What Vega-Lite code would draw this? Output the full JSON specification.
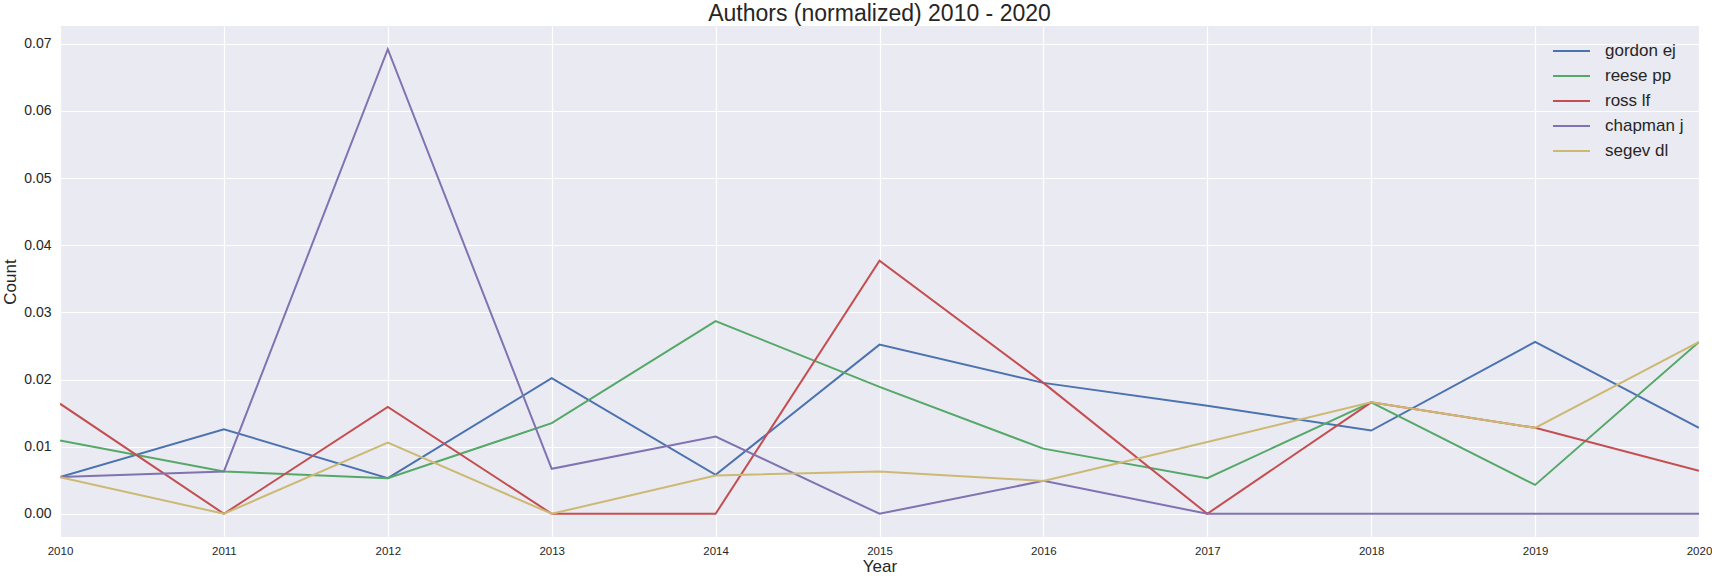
{
  "$schema": "https://vega.github.io/schema/vega-lite/v6.json",
  "width": 1639,
  "height": 511,
  "autosize": {"type": "none"},
  "padding": {"left": 60, "top": 26, "right": 13, "bottom": 39},
  "background": "#ffffff",
  "title": {
    "text": "Authors (normalized) 2010 - 2020",
    "font": "Liberation Sans",
    "fontSize": 23,
    "fontWeight": "normal",
    "color": "#262626",
    "anchor": "middle",
    "baseline": "alphabetic",
    "offset": 4,
    "dy": 22
  },
  "config": {
    "view": {"fill": "#EAEAF2", "stroke": null},
    "font": "Liberation Sans"
  },
  "data": {
    "values": [
      {"Year": 2010, "Author": "gordon ej", "Count": 0.00546},
      {"Year": 2011, "Author": "gordon ej", "Count": 0.0126},
      {"Year": 2012, "Author": "gordon ej", "Count": 0.0053},
      {"Year": 2013, "Author": "gordon ej", "Count": 0.0202},
      {"Year": 2014, "Author": "gordon ej", "Count": 0.0058},
      {"Year": 2015, "Author": "gordon ej", "Count": 0.0252},
      {"Year": 2016, "Author": "gordon ej", "Count": 0.0195},
      {"Year": 2017, "Author": "gordon ej", "Count": 0.0161},
      {"Year": 2018, "Author": "gordon ej", "Count": 0.0124},
      {"Year": 2019, "Author": "gordon ej", "Count": 0.0256},
      {"Year": 2020, "Author": "gordon ej", "Count": 0.0128},
      {"Year": 2010, "Author": "reese pp", "Count": 0.0109},
      {"Year": 2011, "Author": "reese pp", "Count": 0.0063},
      {"Year": 2012, "Author": "reese pp", "Count": 0.0053},
      {"Year": 2013, "Author": "reese pp", "Count": 0.0135},
      {"Year": 2014, "Author": "reese pp", "Count": 0.0287},
      {"Year": 2015, "Author": "reese pp", "Count": 0.0189},
      {"Year": 2016, "Author": "reese pp", "Count": 0.0097},
      {"Year": 2017, "Author": "reese pp", "Count": 0.0053},
      {"Year": 2018, "Author": "reese pp", "Count": 0.0166},
      {"Year": 2019, "Author": "reese pp", "Count": 0.0043},
      {"Year": 2020, "Author": "reese pp", "Count": 0.0256},
      {"Year": 2010, "Author": "ross lf", "Count": 0.0164},
      {"Year": 2011, "Author": "ross lf", "Count": 0},
      {"Year": 2012, "Author": "ross lf", "Count": 0.0159},
      {"Year": 2013, "Author": "ross lf", "Count": 0},
      {"Year": 2014, "Author": "ross lf", "Count": 0},
      {"Year": 2015, "Author": "ross lf", "Count": 0.0377},
      {"Year": 2016, "Author": "ross lf", "Count": 0.0195},
      {"Year": 2017, "Author": "ross lf", "Count": 0},
      {"Year": 2018, "Author": "ross lf", "Count": 0.0166},
      {"Year": 2019, "Author": "ross lf", "Count": 0.0128},
      {"Year": 2020, "Author": "ross lf", "Count": 0.0064},
      {"Year": 2010, "Author": "chapman j", "Count": 0.00546},
      {"Year": 2011, "Author": "chapman j", "Count": 0.0063},
      {"Year": 2012, "Author": "chapman j", "Count": 0.0692},
      {"Year": 2013, "Author": "chapman j", "Count": 0.0067},
      {"Year": 2014, "Author": "chapman j", "Count": 0.0115},
      {"Year": 2015, "Author": "chapman j", "Count": 0},
      {"Year": 2016, "Author": "chapman j", "Count": 0.0049},
      {"Year": 2017, "Author": "chapman j", "Count": 0},
      {"Year": 2018, "Author": "chapman j", "Count": 0},
      {"Year": 2019, "Author": "chapman j", "Count": 0},
      {"Year": 2020, "Author": "chapman j", "Count": 0},
      {"Year": 2010, "Author": "segev dl", "Count": 0.00546},
      {"Year": 2011, "Author": "segev dl", "Count": 0},
      {"Year": 2012, "Author": "segev dl", "Count": 0.0106},
      {"Year": 2013, "Author": "segev dl", "Count": 0},
      {"Year": 2014, "Author": "segev dl", "Count": 0.0057},
      {"Year": 2015, "Author": "segev dl", "Count": 0.0063},
      {"Year": 2016, "Author": "segev dl", "Count": 0.0049},
      {"Year": 2017, "Author": "segev dl", "Count": 0.0107},
      {"Year": 2018, "Author": "segev dl", "Count": 0.0166},
      {"Year": 2019, "Author": "segev dl", "Count": 0.0128},
      {"Year": 2020, "Author": "segev dl", "Count": 0.0256}
    ]
  },
  "mark": {"type": "line", "strokeWidth": 2, "clip": true},
  "encoding": {
    "x": {
      "field": "Year",
      "type": "quantitative",
      "scale": {"domain": [2010, 2020], "nice": false, "zero": false},
      "axis": {
        "title": "Year",
        "values": [2010, 2011, 2012, 2013, 2014, 2015, 2016, 2017, 2018, 2019, 2020],
        "format": "d",
        "ticks": false,
        "domain": false,
        "grid": true,
        "gridColor": "#ffffff",
        "gridWidth": 1.2,
        "gridOpacity": 1,
        "labelFont": "Liberation Sans",
        "labelFontSize": 11.5,
        "labelColor": "#262626",
        "labelPadding": 8,
        "labelFlush": false,
        "labelOverlap": false,
        "labelBound": false,
        "titleFont": "Liberation Sans",
        "titleFontSize": 17,
        "titleFontWeight": "normal",
        "titleColor": "#262626",
        "titleBaseline": "top",
        "titleY": 21.5,
        "titleX": 819.5
      }
    },
    "y": {
      "field": "Count",
      "type": "quantitative",
      "scale": {"domain": [-0.00346, 0.07266], "nice": false, "zero": false},
      "axis": {
        "title": "Count",
        "values": [0, 0.01, 0.02, 0.03, 0.04, 0.05, 0.06, 0.07],
        "format": ".2f",
        "ticks": false,
        "domain": false,
        "grid": true,
        "gridColor": "#ffffff",
        "gridWidth": 1.2,
        "gridOpacity": 1,
        "labelFont": "Liberation Sans",
        "labelFontSize": 14,
        "labelColor": "#262626",
        "labelPadding": 9,
        "labelOverlap": false,
        "labelBound": false,
        "titleFont": "Liberation Sans",
        "titleFontSize": 17,
        "titleFontWeight": "normal",
        "titleColor": "#262626",
        "titleAngle": -90,
        "titleAlign": "center",
        "titleBaseline": "alphabetic",
        "titleX": -45,
        "titleY": 255.5
      }
    },
    "color": {
      "field": "Author",
      "type": "nominal",
      "sort": ["gordon ej", "reese pp", "ross lf", "chapman j", "segev dl"],
      "scale": {
        "domain": ["gordon ej", "reese pp", "ross lf", "chapman j", "segev dl"],
        "range": ["#4C72B0", "#55A868", "#C44E52", "#8172B2", "#CCB974"]
      },
      "legend": {
        "title": null,
        "orient": "none",
        "legendX": 1492,
        "legendY": 12.5,
        "padding": 0,
        "symbolType": "stroke",
        "symbolSize": 1369,
        "symbolStrokeWidth": 2,
        "clipHeight": 25,
        "rowPadding": 0,
        "labelOffset": 14,
        "labelFont": "Liberation Sans",
        "labelFontSize": 17,
        "labelColor": "#262626",
        "labelLimit": 300
      }
    }
  }
}
